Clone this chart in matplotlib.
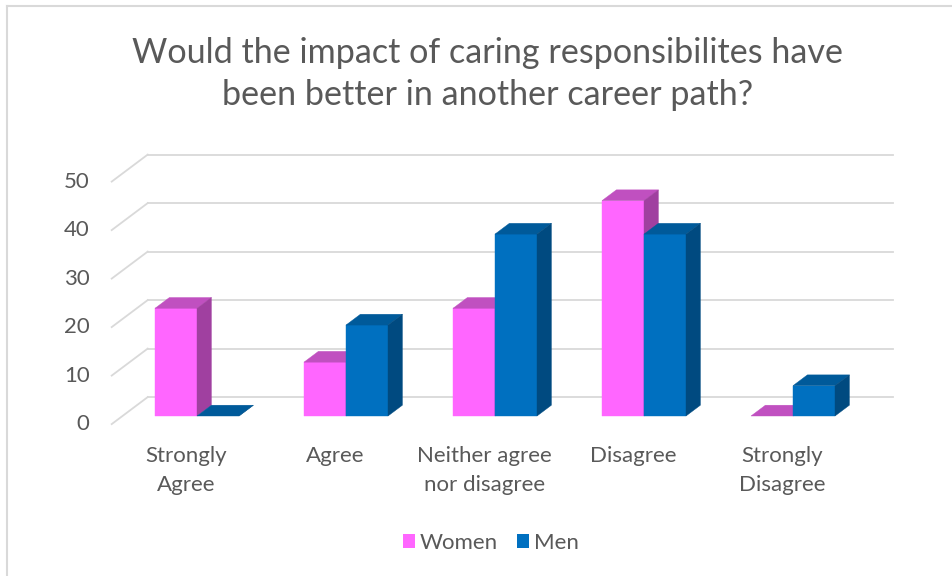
import matplotlib
matplotlib.use("Agg")
import matplotlib.pyplot as plt
from matplotlib.patches import Polygon
from matplotlib.lines import Line2D

plt.rcParams['font.family'] = ['Lato', 'DejaVu Sans']

categories = ["Strongly\nAgree", "Agree", "Neither agree\nnor disagree", "Disagree", "Strongly\nDisagree"]
women = [22.2, 11.1, 22.2, 44.4, 0.0]
men = [0.0, 18.75, 37.5, 37.5, 6.25]
yticks = [0, 10, 20, 30, 40, 50]
series_names = ["Women", "Men"]

# colours: front, top, side
pink = ("#FF66FF", "#C050C0", "#A040A0")
blue = ("#0070C0", "#005A9A", "#004A80")
grid_col = "#D9D9D9"
text_col = "#595959"

W, H = 952, 576
fig = plt.figure(figsize=(W / 100, H / 100), dpi=100)
ax = fig.add_axes([0, 0, 1, 1])
# data coordinates: x = category index, y = value (front plane of bars)
px_per_cat = 149.0
px_per_val = 4.85
x0_px, y0_px = 197.0, 416.0
ax.set_xlim((0 - x0_px) / px_per_cat, (W - x0_px) / px_per_cat)
ax.set_ylim((y0_px - H) / px_per_val, y0_px / px_per_val)
ax.axis("off")

# full depth vector of the chart (data units)
Dx, Dy = 36 / px_per_cat, 27 / px_per_val
f_front, f_back = 0.3, 0.7
bw = 42 / px_per_cat
bdx, bdy = (f_back - f_front) * Dx, (f_back - f_front) * Dy

n = len(categories)
left_i, right_i = -0.5, n - 0.5
# back wall gridlines and left-side slanted lines
for v in yticks:
    ax.add_line(Line2D([left_i + f_back * Dx, right_i + f_back * Dx],
                       [v + f_back * Dy, v + f_back * Dy], color=grid_col, lw=1.3, zorder=1))
    ax.add_line(Line2D([left_i - f_front * Dx, left_i + f_back * Dx],
                       [v - f_front * Dy, v + f_back * Dy], color=grid_col, lw=1.3, zorder=1))
    ax.text(left_i - f_front * Dx - 22 / px_per_cat, v - f_front * Dy, str(v),
            ha="right", va="center", fontsize=16, color=text_col)


def bar3d(xl, h, cols, z):
    front, top, side = cols
    if h > 0:
        ax.add_patch(Polygon([(xl, 0), (xl + bw, 0), (xl + bw, h), (xl, h)],
                             closed=True, fc=front, ec=front, lw=0.3, zorder=z))
    ax.add_patch(Polygon([(xl, h), (xl + bw, h), (xl + bw + bdx, h + bdy), (xl + bdx, h + bdy)],
                         closed=True, fc=top, ec=top, lw=0.3, zorder=z))
    ax.add_patch(Polygon([(xl + bw, 0), (xl + bw + bdx, bdy), (xl + bw + bdx, h + bdy), (xl + bw, h)],
                         closed=True, fc=side, ec=side, lw=0.3, zorder=z))


for i in range(n):
    bar3d(i - bw, women[i], pink, 3 + 2 * i)
    bar3d(i, men[i], blue, 4 + 2 * i)
    ax.text(i - f_front * Dx, -f_front * Dy - 22 / px_per_val, categories[i],
            ha="center", va="top", fontsize=16, color=text_col, linespacing=1.55)

fig.text(488 / W, 1 - 74 / H,
         "Would the impact of caring responsibilites have\nbeen better in another career path?",
         ha="center", va="center", fontsize=24.6, color=text_col, linespacing=1.38)

# legend
handles = [plt.Rectangle((0, 0), 1, 1, fc=pink[0], ec="none"),
           plt.Rectangle((0, 0), 1, 1, fc=blue[0], ec="none")]
fig.legend(handles, series_names, loc="center", bbox_to_anchor=(491 / W, 1 - 543 / H),
           ncol=2, frameon=False, fontsize=16, handlelength=0.55, handleheight=0.55,
           handletextpad=0.22, columnspacing=0.85, labelcolor=text_col)

# chart border (top and left visible)
fig.add_artist(Line2D([6.5 / W, 6.5 / W], [0, 1 - 5.5 / H], color=grid_col, lw=1.5))
fig.add_artist(Line2D([6.5 / W, 1], [1 - 5.5 / H, 1 - 5.5 / H], color=grid_col, lw=1.5))

fig.savefig("out.png", dpi=100, facecolor="white")
